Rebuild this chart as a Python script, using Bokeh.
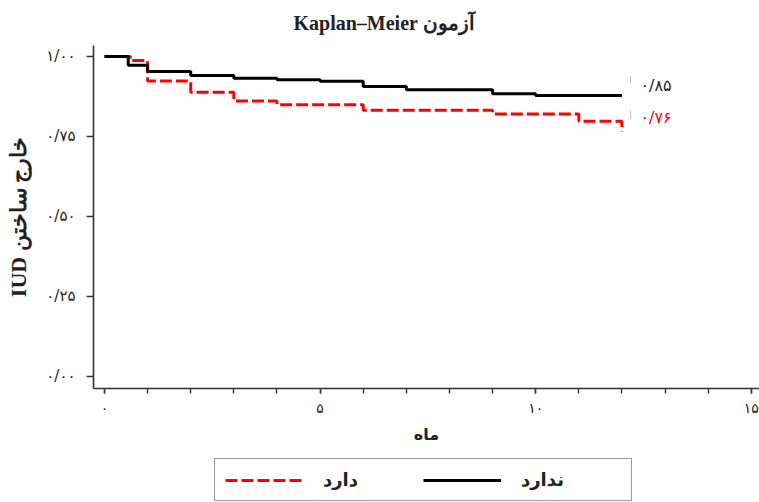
from bokeh.plotting import figure
from bokeh.layouts import column
from bokeh.models import FixedTicker, Legend, LegendItem, Range1d
from bokeh.core.properties import value
from bokeh.embed import file_html
from bokeh.resources import INLINE

# ---- data ----
months_no = [0, 0.55, 1, 2, 3, 4, 5, 6, 7, 9, 10, 12]
surv_no = [1.0, 0.972, 0.953, 0.94, 0.932, 0.927, 0.922, 0.906, 0.896, 0.883, 0.878, 0.878]

months_yes = [0, 0.6, 1, 2, 3, 4, 6, 9, 11, 12]
surv_yes = [1.0, 0.987, 0.923, 0.888, 0.861, 0.849, 0.832, 0.82, 0.797, 0.765]

series_labels = ["دارد", "ندارد"]
end_labels = ["۰/۸۵", "۰/۷۶"]

x_tick_values = [0, 5, 10, 15]
x_tick_labels = ["۰", "۵", "۱۰", "۱۵"]
y_tick_values = [0, 0.25, 0.5, 0.75, 1.0]
y_tick_labels = ["۰/۰۰", "۰/۲۵", "۰/۵۰", "۰/۷۵", "۱/۰۰"]

title_text = "Kaplan–Meier آزمون"
x_title = "ماه"
y_title = "IUD خارج ساختن"

RED_DASH = "12 4"

# ---- main figure ----
p = figure(width=759, height=448,
           x_range=Range1d(-0.255, 15.19), y_range=Range1d(-0.0375, 1.034),
           output_backend="svg", toolbar_location=None,
           min_border_left=93, min_border_right=0,
           min_border_top=45, min_border_bottom=60)
p.outline_line_color = None
p.xgrid.visible = False
p.ygrid.visible = False
p.background_fill_color = "white"
p.border_fill_color = "white"

p.title.text = title_text
p.title.align = "left"
p.title.offset = 200
p.title.standoff = 20
p.title.vertical_align = "top"
p.title.text_font = "Liberation Serif"
p.title.text_font_style = "bold"
p.title.text_font_size = "20px"
p.title.text_color = "#222222"

xa = p.xaxis[0]
xa.ticker = FixedTicker(ticks=x_tick_values, minor_ticks=list(range(0, 16)))
xa.major_label_overrides = {v: s for v, s in zip(x_tick_values, x_tick_labels)}
ya = p.yaxis[0]
ya.ticker = FixedTicker(ticks=y_tick_values)
ya.major_label_overrides = {v: s for v, s in zip(y_tick_values, y_tick_labels)}

for ax in (xa, ya):
    ax.axis_line_color = "#333333"
    ax.axis_line_width = 1.6
    ax.major_tick_line_color = "#333333"
    ax.major_tick_line_width = 1.4
    ax.minor_tick_line_color = "#333333"
    ax.minor_tick_line_width = 1.4
    ax.major_tick_in = 0
    ax.minor_tick_in = 0
    ax.major_label_text_font = "DejaVu Sans"
    ax.major_label_text_color = "#222222"
    ax.axis_label_text_font_style = "bold"
    ax.axis_label_text_color = "#222222"

xa.major_tick_out = 5
xa.minor_tick_out = 5
xa.major_label_standoff = 6
xa.major_label_text_font_size = "14px"
xa.axis_label = x_title
xa.axis_label_standoff = 6
xa.axis_label_text_font = "DejaVu Sans"
xa.axis_label_text_font_size = "16px"

ya.major_tick_out = 7
ya.minor_tick_out = 0
ya.major_label_standoff = 11
ya.major_label_text_font_size = "15px"
ya.axis_label = y_title
ya.axis_label_standoff = 12
ya.axis_label_text_font = "Liberation Serif"
ya.axis_label_text_font_size = "22px"

p.step(months_yes, surv_yes, mode="after", line_color="red",
       line_width=3, line_dash=RED_DASH)
p.step(months_no, surv_no, mode="after", line_color="black", line_width=3)

mark_x = 12.2
p.segment(x0=[mark_x, mark_x], y0=[0.916, 0.806], x1=[mark_x, mark_x], y1=[0.9375, 0.831],
          line_color="#bbbbbb", line_width=1)
p.text(x=[12.43, 12.43], y=[0.909, 0.809], text=end_labels,
       text_color=["#222222", "red"], text_font=value("DejaVu Sans"),
       text_font_size="16px", text_baseline="middle", text_align="left")

# ---- legend strip (same series, drawn out of view; only the legend shows) ----
lg = figure(width=759, height=54, x_range=Range1d(0, 1), y_range=Range1d(5, 6),
            output_backend="svg", toolbar_location=None,
            x_axis_type=None, y_axis_type=None,
            min_border_left=0, min_border_right=0, min_border_top=0, min_border_bottom=0)
lg.outline_line_color = None
lg.xgrid.visible = False
lg.ygrid.visible = False
lg.background_fill_color = "white"
lg.border_fill_color = "white"

l_yes = lg.step(months_yes, surv_yes, mode="after", line_color="red",
                line_width=3, line_dash=RED_DASH)
l_no = lg.step(months_no, surv_no, mode="after", line_color="black", line_width=3)

legend = Legend(items=[LegendItem(label=series_labels[0], renderers=[l_yes]),
                       LegendItem(label=series_labels[1], renderers=[l_no])],
                orientation="horizontal", location=(121, 1))
legend.glyph_width = 78
legend.glyph_height = 20
legend.label_standoff = 20
legend.label_width = 100
legend.spacing = 0
legend.padding = 10
legend.margin = 0
legend.border_line_color = "#333333"
legend.border_line_width = 1.6
legend.background_fill_color = "white"
legend.background_fill_alpha = 1
legend.label_text_font = "DejaVu Sans"
legend.label_text_font_style = "bold"
legend.label_text_font_size = "18px"
legend.label_text_color = "#222222"
lg.add_layout(legend)

layout = column(p, lg, spacing=0)
open("out.html", "w").write(file_html(layout, INLINE))
